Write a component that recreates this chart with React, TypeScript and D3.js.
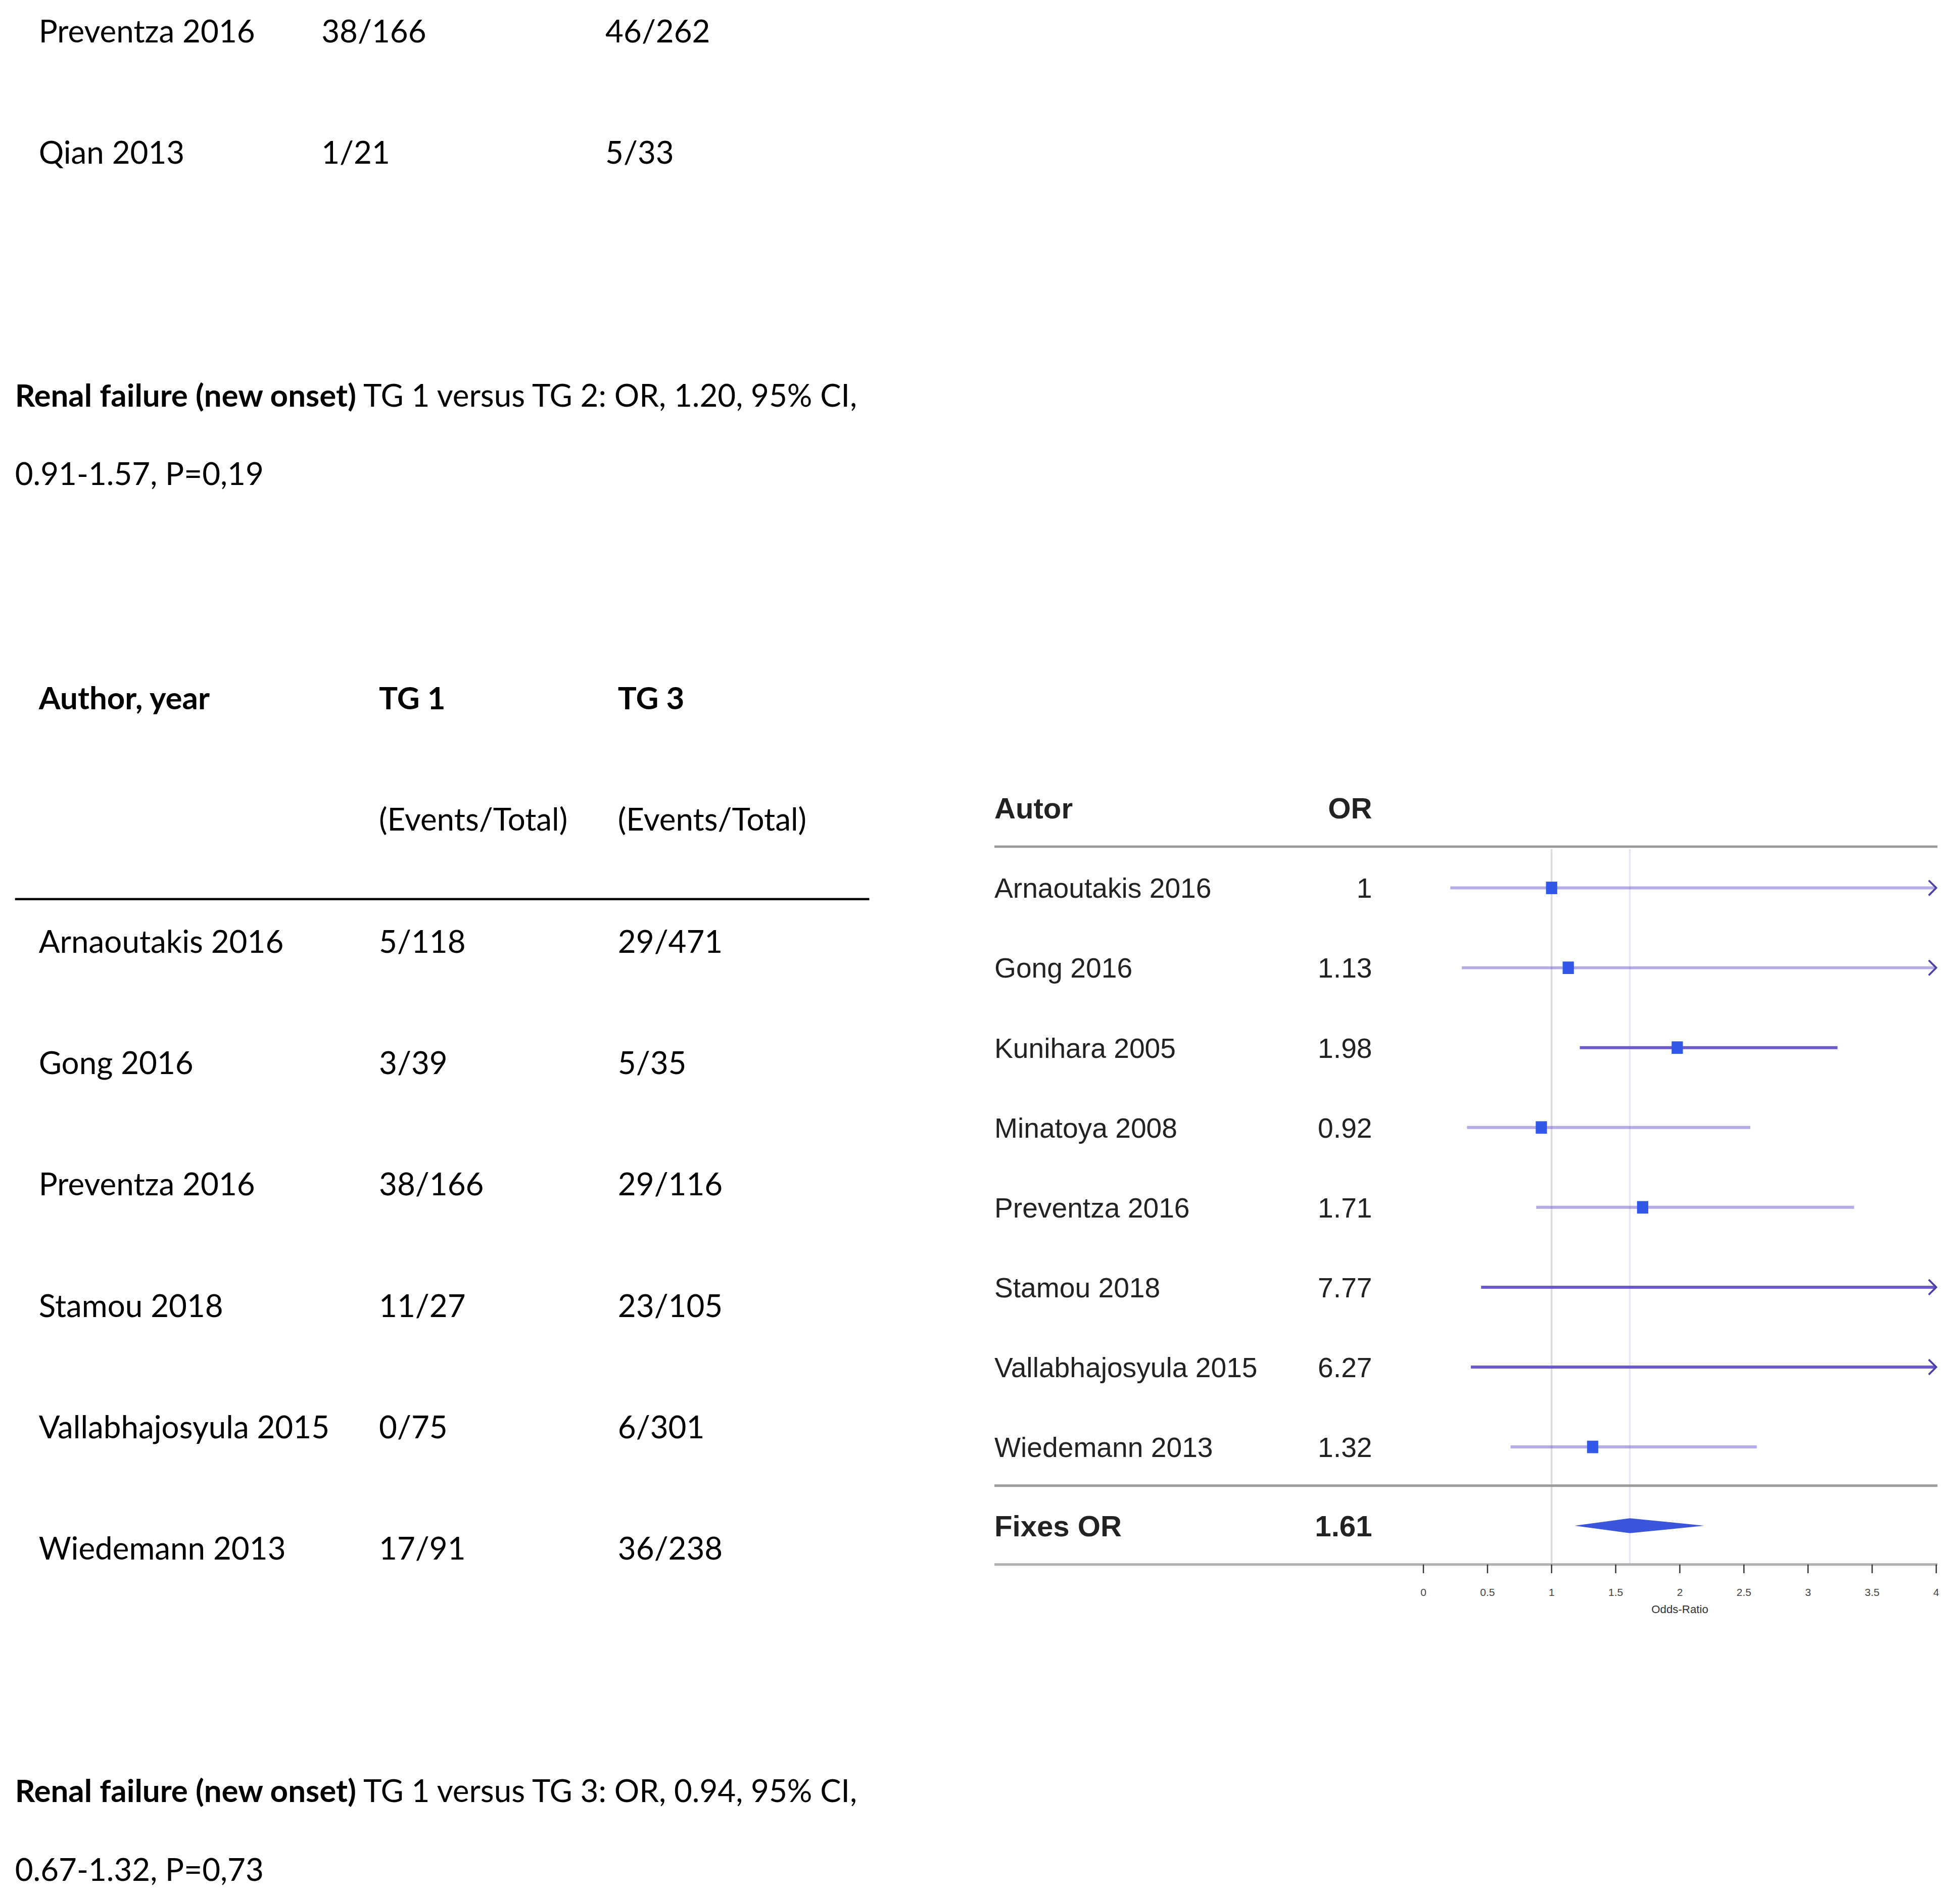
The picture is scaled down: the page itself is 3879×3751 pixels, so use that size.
import * as d3 from 'd3'

// upper table (TG 1 vs TG 2, tail end)
const tg2Authors = ['Preventza 2016', 'Qian 2013']
const tg2Group1 = ['38/166', '1/21']
const tg2Group2 = ['46/262', '5/33']

// lower table (TG 1 vs TG 3)
const tg3Authors = ['Arnaoutakis 2016', 'Gong 2016', 'Preventza 2016', 'Stamou 2018', 'Vallabhajosyula 2015', 'Wiedemann 2013']
const tg3Group1 = ['5/118', '3/39', '38/166', '11/27', '0/75', '17/91']
const tg3Group3 = ['29/471', '5/35', '29/116', '23/105', '6/301', '36/238']

// forest plot
const studies = ['Arnaoutakis 2016', 'Gong 2016', 'Kunihara 2005', 'Minatoya 2008', 'Preventza 2016', 'Stamou 2018', 'Vallabhajosyula 2015', 'Wiedemann 2013']
const orLabels = ['1', '1.13', '1.98', '0.92', '1.71', '7.77', '6.27', '1.32']
const orValues = [1, 1.13, 1.98, 0.92, 1.71, 7.77, 6.27, 1.32]
const ciLower = [0.21, 0.3, 1.22, 0.34, 0.88, 0.45, 0.37, 0.68]
const ciUpper = [4.7, 4.3, 3.23, 2.55, 3.36, 134, 106, 2.6]
const summaryLabel = '1.61'
const summaryOR = 1.61
const summaryCI = [1.18, 2.19]
const axisDomain = [0, 4]

const darkLines = new Set(['Kunihara 2005', 'Stamou 2018', 'Vallabhajosyula 2015'])

const W = 1567
const H = 1515.3
const docFont = 'Lato, "Open Sans", sans-serif'
const plotFont = '"Liberation Sans", Arial, sans-serif'
const FS = 25
const base = (c: number, f = FS) => c + 0.36 * f

function Paragraph({ y, rest, second }: { y: number; rest: string; second: string }) {
  return (
    <g fontFamily={docFont} fontSize={FS} fill="#000">
      <text x={12} y={base(y)}>
        <tspan fontWeight="bold">Renal failure (new onset)</tspan>
        <tspan>{' ' + rest}</tspan>
      </text>
      <text x={12} y={base(y + 63)}>{second}</text>
    </g>
  )
}

export default function App() {
  const yTop = d3.scalePoint<string>().domain(tg2Authors).range([25, 122])
  const yTab = d3.scalePoint<string>().domain(tg3Authors).range([753, 1238])
  const yF = d3.scalePoint<string>().domain(studies).range([710, 1157])
  const x = d3.scaleLinear().domain(axisDomain).range([1138, 1548])
  const xMax = axisDomain[1]
  const ySum = 1220
  const fF = 22.3
  const fB = 23.5
  const purple = '#6a5acd'
  const sq = 9

  return (
    <div style={{ position: 'absolute', left: 0, top: 0 }}>
      <svg width={3879} height={3751} viewBox={`0 0 ${W} ${H}`} style={{ display: 'block', background: '#fff' }}>
        <rect x={0} y={0} width={W} height={H} fill="#fff" />

        {/* top table rows */}
        <g fontFamily={docFont} fontSize={FS} fill="#000">
          {tg2Authors.map((a, i) => (
            <g key={a}>
              <text x={31} y={base(yTop(a)!)}>{a}</text>
              <text x={257} y={base(yTop(a)!)}>{tg2Group1[i]}</text>
              <text x={484} y={base(yTop(a)!)}>{tg2Group2[i]}</text>
            </g>
          ))}
        </g>

        <Paragraph y={316} rest="TG 1 versus TG 2: OR, 1.20, 95% CI," second="0.91-1.57, P=0,19" />

        {/* lower table */}
        <g fontFamily={docFont} fontSize={FS} fill="#000">
          <text x={31} y={base(558)} fontWeight="bold">Author, year</text>
          <text x={303} y={base(558)} fontWeight="bold">TG 1</text>
          <text x={494} y={base(558)} fontWeight="bold">TG 3</text>
          <text x={303} y={base(655)}>(Events/Total)</text>
          <text x={494} y={base(655)}>(Events/Total)</text>
          <line x1={12} x2={695} y1={719} y2={719} stroke="#000" strokeWidth={1.8} />
          {tg3Authors.map((a, i) => (
            <g key={a}>
              <text x={31} y={base(yTab(a)!)}>{a}</text>
              <text x={303} y={base(yTab(a)!)}>{tg3Group1[i]}</text>
              <text x={494} y={base(yTab(a)!)}>{tg3Group3[i]}</text>
            </g>
          ))}
        </g>

        <Paragraph y={1432} rest="TG 1 versus TG 3: OR, 0.94, 95% CI," second="0.67-1.32, P=0,73" />

        {/* forest plot */}
        <g fontFamily={plotFont} fill="#222">
          <line x1={x(1)} x2={x(1)} y1={679} y2={1250} stroke="#dcdcdc" strokeWidth={1.4} />
          <line x1={x(summaryOR)} x2={x(summaryOR)} y1={679} y2={1250} stroke="#e6e6f4" strokeWidth={1.4} />

          <text x={795} y={base(646, fB)} fontSize={fB} fontWeight="bold">Autor</text>
          <text x={1097} y={base(646, fB)} fontSize={fB} fontWeight="bold" textAnchor="end">OR</text>
          <line x1={795} x2={1549} y1={677} y2={677} stroke="#9a9a9a" strokeWidth={2} />

          {studies.map((s, i) => {
            const y = yF(s)!
            const lo = x(Math.max(ciLower[i], axisDomain[0]))
            const clipped = ciUpper[i] > xMax
            const hi = x(Math.min(ciUpper[i], xMax))
            const op = darkLines.has(s) ? 1 : 0.5
            return (
              <g key={s}>
                <text x={795} y={base(y, fF)} fontSize={fF}>{s}</text>
                <text x={1097} y={base(y, fF)} fontSize={fF} textAnchor="end">{orLabels[i]}</text>
                <line x1={lo} x2={hi} y1={y} y2={y} stroke={purple} strokeOpacity={op} strokeWidth={2.4} />
                {clipped && (
                  <path
                    d={`M${hi - 6},${y - 6}L${hi},${y}L${hi - 6},${y + 6}`}
                    fill="none"
                    stroke="#4b3fa8"
                    strokeWidth={1.5}
                  />
                )}
                {orValues[i] <= xMax && (
                  <rect x={x(orValues[i]) - sq / 2} y={y - sq / 2 - 0.5} width={sq} height={sq + 1} fill="#3358e8" />
                )}
              </g>
            )
          })}

          <line x1={795} x2={1549} y1={1188} y2={1188} stroke="#9a9a9a" strokeWidth={2} />

          <text x={795} y={base(ySum, fB)} fontSize={fB} fontWeight="bold">Fixes OR</text>
          <text x={1097} y={base(ySum, fB)} fontSize={fB} fontWeight="bold" textAnchor="end">{summaryLabel}</text>
          <path
            d={`M${x(summaryCI[0])},${ySum}L${x(summaryOR)},${ySum - 6}L${x(summaryCI[1])},${ySum}L${x(summaryOR)},${ySum + 6}Z`}
            fill="#3a55dc"
          />

          {/* axis */}
          <line x1={795} x2={1549} y1={1251} y2={1251} stroke="#b0b0b0" strokeWidth={2} />
          {x.ticks(8).map(t => (
            <g key={t} transform={`translate(${x(t)},0)`}>
              <line y1={1251} y2={1258} stroke="#333" strokeWidth={1} />
              <text y={1276} fontSize={8.5} textAnchor="middle" fill="#444">{String(t)}</text>
            </g>
          ))}
          <text x={x(2)} y={1290} fontSize={9} textAnchor="middle" fill="#333">Odds-Ratio</text>
        </g>
      </svg>
    </div>
  )
}
